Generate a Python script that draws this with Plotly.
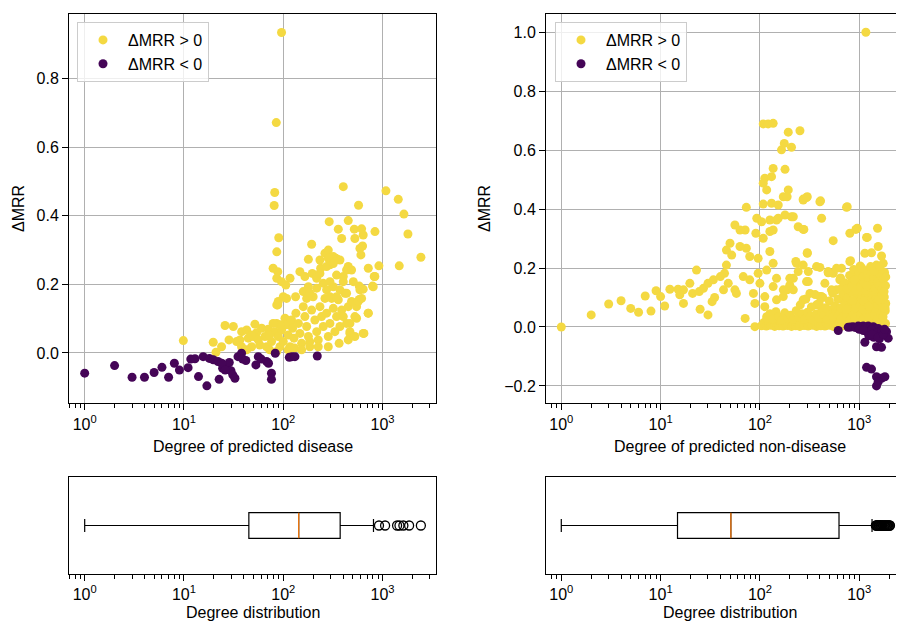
import plotly.graph_objects as go

# ---------------- data ----------------
left_pos = [
    (96,0.935),(85,0.672),(82,0.468),(81,0.430),(90,0.336),(86,0.295),(79,0.247),(88,0.237),(86,0.218),(96,0.208),(106,0.198),(88,0.140),
    (402,0.485),(1081,0.473),(1439,0.448),(1640,0.405),(1800,0.347),(1472,0.254),(2432,0.279),(573,0.431),(290,0.383),(451,0.386),
    (358,0.361),(387,0.334),(519,0.361),(615,0.362),(638,0.344),(838,0.354),(526,0.334),(193,0.317),(263,0.291),(284,0.300),(319,0.281),
    (339,0.276),(350,0.273),(591,0.305),(605,0.286),(629,0.312),(179,0.273),(238,0.247),(295,0.257),(451,0.252),(718,0.247),(918,0.254),
    (824,0.223),(793,0.195),(582,0.195),(638,0.186),(582,0.156),(718,0.116),(547,0.101),(649,0.057),(469,0.057),(451,0.038),(147,0.237),
    (165,0.223),(196,0.232),
    (9.85,0.036),(19.7,0.031),(23.9,0.018),(25.9,0.080),(31.4,0.077),(21,0.002),(33.9,0.033),(36.6,0.038),(38.1,0.062),(42.8,0.067),
    (44.4,0.043),(48,0.018),(51.8,0.084),(53.9,0.059),(56,0.038),(60.5,0.072),(65.4,0.048),(68,0.018),(70.6,0.069),(76.2,0.033),
    (82.4,0.062),(85.7,0.086),(89.1,0.048),(92.5,0.018),(96.2,0.067),(100,0.033),(104,0.101),(108,0.082),(112,0.052),(117,0.018),
    (121,0.096),(124,0.072),(128,0.043),(134,0.116),(142,0.086),(147,0.057),(153,0.028),(159,0.135),(165,0.106),(172,0.077),(179,0.048),
    (185,0.018),(193,0.125),(200,0.164),(208,0.096),(217,0.062),(225,0.038),(234,0.135),(243,0.106),(253,0.077),(263,0.159),(273,0.116),
    (284,0.048),(295,0.086),(307,0.159),(319,0.130),(331,0.062),(344,0.106),(358,0.155),(372,0.077),(387,0.125),(402,0.106),(418,0.174),
    (434,0.086),(451,0.135),(469,0.062),(487,0.150),(526,0.106),(547,0.135),(568,0.150),(591,0.184),(615,0.159),
    (86,0.140),(89,0.150),(108,0.159),(133,0.164),(159,0.179),(172,0.159),(179,0.193),(185,0.174),(217,0.189),(253,0.203),(273,0.184),
    (295,0.164),(319,0.193),(344,0.164),(372,0.184),(402,0.208),(434,0.174),(507,0.208),(217,0.218),(234,0.232),(273,0.252),(295,0.208),
    (434,0.242),(402,0.223),(344,0.227),(234,0.271),(284,0.276),(319,0.261),(372,0.271),(487,0.242),(117,0.218),(100,0.164),(92.5,0.082),
    (79,0.086),(73,0.052),(50,0.048),(58,0.023),(112,0.009),(130,0.014),(153,0.009),(185,0.033),(225,0.018),(284,0.018),(365,0.028),
    (526,0.048),(469,0.086),(638,0.057),(716,0.116),(805,0.193),(836,0.223),(73,0.009),(42.8,0.009),(38,0.018),(28.4,0.038),(48,0.052),
    (86,0.004),
]
left_neg = [
    (1,-0.059),(2,-0.037),(3,-0.071),(4,-0.071),(5,-0.057),(6,-0.042),(7,-0.071),(8,-0.030),(9,-0.050),(11,-0.043),(11.7,-0.018),
    (12.9,-0.017),(14,-0.069),(15.6,-0.011),(17,-0.096),(18,-0.016),(19.7,-0.020),(22,-0.025),(22.6,-0.077),(24.5,-0.045),(27,-0.038),
    (28.6,-0.028),(29.7,-0.052),(31,-0.064),(32.6,-0.074),(35,-0.011),(38,-0.001),(39,-0.018),(42,-0.022),(53,-0.035),(56,-0.011),
    (60,-0.018),(68,-0.025),(71,-0.030),(76,-0.059),(76,-0.077),(83,-0.001),(115,-0.013),(122,-0.011),(131,-0.011),(220,-0.009),
    (24,-0.030),(26,-0.050),
]
right_pos = [
    (1167,1.0),(108,0.689),(121,0.689),(136,0.691),(193,0.661),(253,0.666),(176,0.623),(165,0.601),(208,0.610),(112,0.505),(136,0.538),
    (131,0.510),(179,0.535),(108,0.488),(117,0.465),(193,0.465),(172,0.442),(188,0.442),(273,0.434),(300,0.442),(402,0.425),(745,0.406),
    (108,0.417),(131,0.420),(153,0.414),(73,0.406),(418,0.369),(217,0.374),(179,0.380),(153,0.369),(126,0.363),(93,0.369),(104,0.357),
    (243,0.340),(277,0.331),(805,0.318),(926,0.331),(1530,0.335),(1186,0.304),(547,0.293),(126,0.324),(108,0.301),(91,0.318),(71,0.329),
    (56,0.346),(63,0.329),(50,0.284),(46,0.261),(52,0.244),(63,0.273),(73,0.267),(79,0.239),(96,0.233),(126,0.256),(136,0.216),(117,0.193),
    (300,0.250),(372,0.205),(234,0.216),(805,0.222),(1140,0.250),(1330,0.252),(1553,0.273),(1678,0.241),(1745,0.216),(1813,0.171),
    (1813,0.063),(1745,0.018),
    (23,0.193),(19.7,0.148),(12.4,0.128),(9,0.123),(7,0.105),(4,0.089),(3,0.078),(2,0.041),(1,0.0),(5,0.063),(6,0.050),(8,0.054),
    (10,0.103),(11,0.071),(15,0.128),(17,0.080),(25,0.060),(30,0.041),(35,0.100),(33,0.086),(17,0.126),(15.6,0.109),(21,0.114),
    (24.5,0.120),(27,0.131),(30,0.148),(34,0.160),(40,0.171),(44,0.182),(48,0.148),(56,0.126),(58,0.114),(43,0.126),(46,0.210),
    (71,0.029),(89,0.001),(89,0.080),(86,0.114),(79,0.160),(68,0.171),(100,0.148),(96,0.182),(112,0.103),(112,0.069),(117,0.035),
    (147,0.092),(172,0.103),(188,0.126),(217,0.165),(243,0.188),(200,0.142),(295,0.154),(307,0.188),(319,0.114),(273,0.092),(372,0.075),
    (418,0.103),(451,0.148),(487,0.188),(547,0.182),(591,0.126),(664,0.199),(638,0.160),(690,0.092),(507,0.058),(664,0.046),
    (273,0.431),(295,0.439),(408,0.428),(757,0.408),(208,0.374),(147,0.363),(136,0.329),(273,0.331),(955,0.335),(1205,0.304),(300,0.252),
    (230,0.222),(273,0.210),(402,0.202),(818,0.225),(591,0.199),(1023,0.207),(487,0.184),(649,0.166),(871,0.176),(1096,0.182),
    (1493,0.210),(1745,0.171),(200,0.165),(147,0.165),(307,0.154),(136,0.137),(172,0.126),(217,0.126),(402,0.103),(526,0.126),(664,0.131),
    (805,0.148),(940,0.137),(1186,0.148),(1493,0.148),(1614,0.137),(1745,0.103),(1813,0.069),
    (104,0.004),(110,0.015),(116,0.003),(122,0.012),(128,0.006),(135,0.018),(141,0.002),(148,0.010),(156,0.004),(163,0.016),(171,0.003),
    (180,0.011),(189,0.005),(198,0.017),(208,0.002),(218,0.009),(229,0.004),(240,0.014),(252,0.002),(265,0.010),(278,0.005),(292,0.016),
    (306,0.003),(321,0.011),(337,0.006),(354,0.018),(372,0.002),(390,0.012),(410,0.004),(430,0.015),(452,0.003),(474,0.010),(498,0.006),
    (523,0.017),(549,0.002),(576,0.012),(605,0.005),(635,0.016),(667,0.003),(700,0.011),(735,0.006),(772,0.018),(810,0.003),(850,0.012),
    (893,0.005),(937,0.016),(984,0.004),(1033,0.013),(1085,0.006),(1139,0.017),(1196,0.004),(1256,0.012),(1318,0.006),(1384,0.016),
    (1453,0.005),(1526,0.013),(1602,0.004),(1682,0.016),(1766,0.008),(1840,0.012),
    (118,0.030),(126,0.045),(135,0.028),(145,0.052),(155,0.035),(166,0.024),(178,0.048),(190,0.030),(203,0.040),(217,0.026),(232,0.055),
    (248,0.033),(265,0.045),(283,0.027),(302,0.050),(322,0.036),(344,0.024),(367,0.044),(392,0.030),(418,0.055),(446,0.038),(476,0.026),
    (508,0.048),(542,0.033),(578,0.058),(617,0.040),(658,0.027),(702,0.050),(749,0.035),(799,0.024),(852,0.046),(909,0.031),(970,0.056),
    (1035,0.040),(1104,0.027),(1178,0.050),(1257,0.034),(1341,0.057),(1431,0.040),(1527,0.028),(1629,0.050),(1738,0.035),(1830,0.055),
    (255,0.075),(290,0.095),(330,0.068),(360,0.110),(395,0.080),(430,0.100),(460,0.065),(500,0.088),(540,0.115),(570,0.072),(610,0.095),
    (650,0.065),(690,0.110),(720,0.080),(760,0.100),(800,0.068),(840,0.118),(880,0.085),(920,0.065),(960,0.105),(1000,0.078),(1050,0.095),
    (1090,0.062),(1130,0.115),(1180,0.082),(1230,0.100),(1280,0.068),(1330,0.112),(1380,0.085),(1430,0.064),(1480,0.098),(1540,0.076),
    (1600,0.115),(1660,0.088),(1720,0.066),(1790,0.102),(1850,0.080),(740,0.060),(860,0.090),(990,0.120),(1110,0.088),(1250,0.070),
    (1400,0.120),(1560,0.092),(1700,0.110),(1810,0.064),
    (710,0.150),(760,0.130),(800,0.175),(840,0.140),(880,0.195),(920,0.125),(960,0.160),(1000,0.185),(1040,0.135),(1080,0.170),
    (1120,0.150),(1160,0.125),(1200,0.190),(1240,0.160),(1280,0.135),(1320,0.180),(1360,0.145),(1400,0.165),(1450,0.130),(1500,0.195),
    (1550,0.155),(1600,0.140),(1650,0.175),(1700,0.130),(1750,0.160),(1800,0.185),(1840,0.140),(900,0.160),(1060,0.200),(1180,0.140),
    (1300,0.205),(1420,0.190),(1620,0.205),(1780,0.120),(1850,0.170),
]
right_neg = [
    (615,-0.012),(775,-0.001),(820,0.000),(870,0.001),(920,-0.002),(977,0.003),(1030,0.001),(1097,0.003),(1160,0.000),(1233,0.003),
    (1300,-0.002),(1384,0.001),(1450,-0.005),(1553,-0.005),(1614,-0.016),(1438,-0.027),(1281,-0.021),(1186,-0.016),(1331,-0.010),
    (1500,-0.020),(1650,-0.030),(1700,-0.012),(1884,-0.016),(1140,-0.052),(1959,-0.038),(1493,-0.067),(1678,-0.069),(1186,-0.137),
    (1330,-0.143),(1493,-0.169),(1678,-0.174),(1813,-0.169),(1493,-0.200),(1553,-0.186),(1400,-0.035),(1600,-0.040),(1000,-0.008),
    (1100,-0.012),(1250,-0.030),(1350,-0.025),(1550,-0.035),(1750,-0.025),(1800,-0.008),
]

# box-plot statistics (degree distribution)
box_left = dict(lowerfence=1, q1=45, median=143, q3=374, upperfence=810)
fliers_left = [920, 1060, 1400, 1480, 1620, 1850, 2430]
box_right = dict(lowerfence=1, q1=14.8, median=51, q3=626, upperfence=1346)
fliers_right = [1470, 1490, 1510, 1530, 1555, 1575, 1600, 1625, 1650, 1675, 1700, 1730,
                1760, 1790, 1820, 1850, 1880, 1915, 1950, 1985, 2020, 2040]

log_tickvals = [1, 10, 100, 1000]
log_ticktext = ["10<sup>0</sup>", "10<sup>1</sup>", "10<sup>2</sup>", "10<sup>3</sup>"]
minor_vals = [0.7, 0.8, 0.9, 2, 3, 4, 5, 6, 7, 8, 9, 20, 30, 40, 50, 60, 70, 80, 90,
              200, 300, 400, 500, 600, 700, 800, 900, 2000, 3000]
left_yticks = [0.0, 0.2, 0.4, 0.6, 0.8]
left_yticktext = ["0.0", "0.2", "0.4", "0.6", "0.8"]
right_yticks = [-0.2, 0.0, 0.2, 0.4, 0.6, 0.8, 1.0]
right_yticktext = ["\u22120.2", "0.0", "0.2", "0.4", "0.6", "0.8", "1.0"]

labels = ["\u0394MRR > 0", "\u0394MRR < 0"]
colors = ["#f4d942", "#450557"]

# ---------------- figure ----------------
# the page body adds an 8px margin; the figure is sized so it fills the 904x622 window
OFF = 8
W, H = 904 - OFF, 622 - OFF
def fx(px):
    return (px - OFF) / W
def fy(py):
    return 1 - (py - OFF) / H

FONT = "Liberation Sans, Arial, Helvetica, sans-serif"
fig = go.Figure()

def add_scatter(pairs, name, color, xa, ya, legend):
    fig.add_trace(go.Scatter(
        x=[p[0] for p in pairs], y=[p[1] for p in pairs], mode="markers", name=name,
        marker=dict(size=9, color=color, line=dict(width=0)),
        xaxis=xa, yaxis=ya, legend=legend, hoverinfo="skip"))

add_scatter(left_pos, labels[0], colors[0], "x", "y", "legend")
add_scatter(left_neg, labels[1], colors[1], "x", "y", "legend")
add_scatter(right_pos, labels[0], colors[0], "x2", "y2", "legend2")
add_scatter(right_neg, labels[1], colors[1], "x2", "y2", "legend2")

BOXW = 0.265
for stats, fl, xa, ya in [(box_left, fliers_left, "x3", "y3"), (box_right, fliers_right, "x4", "y4")]:
    fig.add_trace(go.Box(
        y=[1], q1=[stats["q1"]], median=[stats["median"]], q3=[stats["q3"]],
        lowerfence=[stats["lowerfence"]], upperfence=[stats["upperfence"]],
        orientation="h", width=BOXW, whiskerwidth=0.5, boxpoints=False,
        line=dict(color="black", width=1.2), fillcolor="rgba(0,0,0,0)",
        xaxis=xa, yaxis=ya, showlegend=False, hoverinfo="skip"))
    fig.add_trace(go.Scatter(
        x=[stats["median"], stats["median"]], y=[1 - BOXW / 2, 1 + BOXW / 2], mode="lines",
        line=dict(color="#ff7f0e", width=1.2), xaxis=xa, yaxis=ya, showlegend=False, hoverinfo="skip"))
    fig.add_trace(go.Scatter(
        x=fl, y=[1] * len(fl), mode="markers",
        marker=dict(symbol="circle-open", size=9, color="black", line=dict(width=1.3)),
        xaxis=xa, yaxis=ya, showlegend=False, hoverinfo="skip"))

top_dom = [fy(403.3), fy(14.3)]
bot_dom = [fy(574), fy(477)]
left_dom = [fx(69), fx(436)]
right_dom = [fx(546), 1.0]
left_range = [-0.158, 3.538]
right_range = [-0.154, 3.451]

def xaxis(dom, rng, anchor, grid):
    return dict(domain=dom, type="log", range=rng, anchor=anchor,
                tickmode="array", tickvals=log_tickvals, ticktext=log_ticktext,
                ticks="outside", ticklen=6, tickwidth=1, tickcolor="black",
                showline=True, linecolor="black", linewidth=1, mirror=True,
                showgrid=grid, gridcolor="#b0b0b0", gridwidth=1, zeroline=False,
                tickfont=dict(size=16, color="black", family=FONT),
                minor=dict(tickvals=minor_vals, ticks="outside", ticklen=3.5,
                           tickcolor="black", tickwidth=0.8, showgrid=False))

def yaxis_top(rng, tv, tt, anchor, mirror):
    return dict(domain=top_dom, range=rng, anchor=anchor, tickmode="array",
                tickvals=tv, ticktext=tt, ticks="outside", ticklen=6, tickwidth=1,
                tickcolor="black", showline=True, linecolor="black", linewidth=1,
                mirror=mirror, showgrid=True, gridcolor="#b0b0b0", gridwidth=1,
                zeroline=False, tickfont=dict(size=16, color="black", family=FONT))

def yaxis_bot(anchor, mirror):
    return dict(domain=bot_dom, range=[0.5, 1.5], anchor=anchor, showticklabels=False,
                ticks="", showline=True, linecolor="black", linewidth=1, mirror=mirror,
                showgrid=False, zeroline=False)

legend_common = dict(xanchor="left", yanchor="top", bgcolor="rgba(255,255,255,0.8)",
                     bordercolor="#cccccc", borderwidth=1,
                     font=dict(size=16, color="black", family=FONT), itemwidth=40,
                     tracegroupgap=0)

fig.update_layout(
    width=W, height=H, margin=dict(l=0, r=0, t=0, b=0),
    paper_bgcolor="white", plot_bgcolor="white",
    font=dict(family=FONT, size=16, color="black"),
    xaxis=xaxis(left_dom, left_range, "y", True),
    yaxis=yaxis_top([-0.147, 0.988], left_yticks, left_yticktext, "x", True),
    xaxis2=xaxis(right_dom, right_range, "y2", True),
    yaxis2=yaxis_top([-0.259, 1.061], right_yticks, right_yticktext, "x2", False),
    xaxis3=xaxis(left_dom, left_range, "y3", False),
    yaxis3=yaxis_bot("x3", True),
    xaxis4=xaxis(right_dom, right_range, "y4", False),
    yaxis4=yaxis_bot("x4", False),
    legend=dict(x=fx(77), y=fy(22), **legend_common),
    legend2=dict(x=fx(555), y=fy(22), **legend_common),
    hovermode=False,
)

titles = [
    ("Degree of predicted disease", 252.5, 446, 0),
    ("Degree of predicted non-disease", 730, 446, 0),
    ("\u0394MRR", 19, 209, -90),
    ("\u0394MRR", 485, 209, -90),
    ("Degree distribution", 252.5, 612, 0),
    ("Degree distribution", 730, 612, 0),
]
for txt, px, py, ang in titles:
    fig.add_annotation(text=txt, x=fx(px), y=fy(py), xref="paper", yref="paper",
                       showarrow=False, textangle=ang, xanchor="center", yanchor="middle",
                       font=dict(size=16, color="black", family=FONT))

fig.write_html("out.html")
